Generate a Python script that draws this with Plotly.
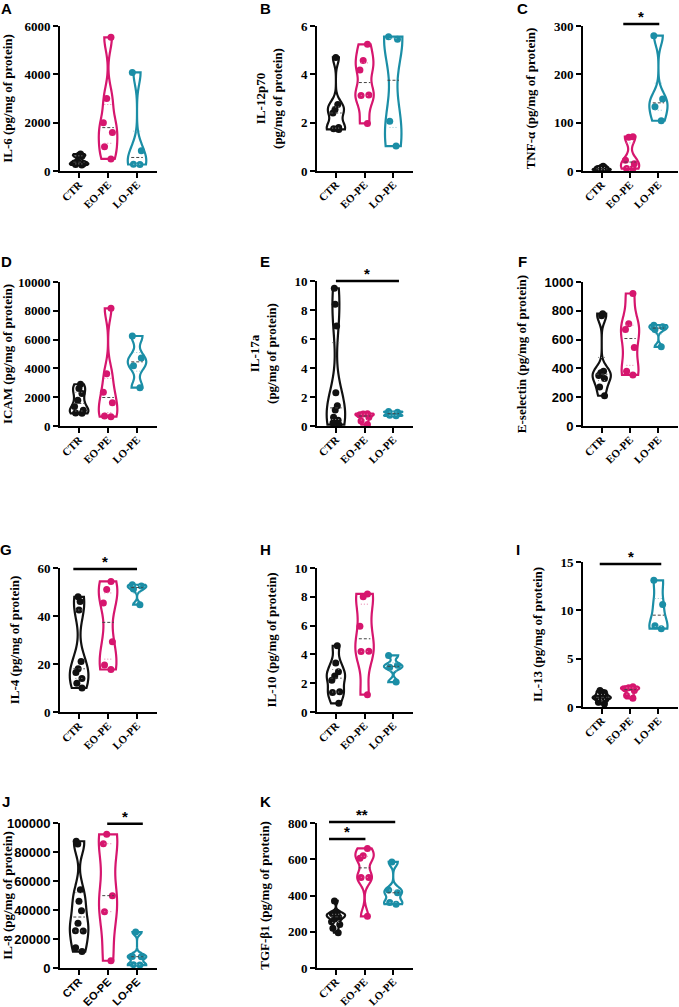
import numpy as np
import plotly.graph_objects as go

groups = ["CTR", "EO-PE", "LO-PE"]
colors = ["#111111", "#D6166E", "#1B8EA6"]
quart_colors = ["#8a8a8a", "#E77AAA", "#8FC6D2"]

# Panel data
il6 = [[700, 650, 620, 400, 330, 300, 270, 250], [5530, 3000, 2000, 1590, 1000, 500], [4080, 840, 280, 270]]
il12p70 = [[4.7, 2.75, 2.55, 2.4, 1.8, 1.75, 1.72], [5.24, 4.57, 4.18, 3.14, 3.12, 1.97], [5.56, 5.45, 2.06, 1.03]]
tnfa = [[10, 8, 7, 5, 4, 3, 2, 1], [71, 70, 22, 15, 5, 5], [280, 149, 133, 104]]
icam = [[2900, 2600, 2250, 1780, 1350, 1090, 900, 880], [8170, 3630, 2340, 1620, 700, 650], [6250, 4720, 4190, 2660]]
il17a = [[9.5, 8.4, 6.9, 2.3, 1.4, 1.1, 0.6, 0.4, 0.2, 0.1], [0.85, 0.82, 0.78, 0.6, 0.35, 0.1], [1.0, 0.95, 0.75, 0.7]]
eselectin = [[780, 765, 380, 370, 350, 330, 270, 210], [920, 710, 670, 545, 380, 355], [700, 690, 670, 550]]
il4 = [[48, 46, 42.5, 21, 18, 16.5, 14, 12, 10], [54.4, 51, 45.4, 29.3, 19.6, 17.7], [53, 52.5, 51.2, 44.7]]
il10 = [[4.6, 3.4, 2.8, 2.5, 2.2, 1.4, 1.35, 0.6], [8.2, 8.0, 5.95, 4.22, 4.2, 1.2], [3.93, 3.24, 3.1, 2.08]]
il13 = [[1.7, 1.5, 1.3, 1.1, 1.0, 0.9, 0.8, 0.5, 0.3], [2.1, 2.0, 1.9, 1.7, 1.2, 0.9], [13.1, 10.6, 8.4, 8.1]]
il8 = [[87400, 85500, 54000, 46000, 39500, 30800, 25700, 25500, 14000, 11300], [92200, 85700, 49900, 38850, 5000], [24800, 8000, 7800, 2300, 2000]]
tgfb1 = [[370, 305, 300, 295, 290, 285, 280, 270, 255, 240, 220, 195], [660, 620, 605, 500, 500, 285], [585, 430, 415, 362, 352]]

letters = ["A", "B", "C", "D", "E", "F", "G", "H", "I", "J", "K"]
titles = ["IL-6 (pg/mg of protein)", "IL-12p70<br>(pg/mg of protein)", "TNF-α (pg/mg of protein)",
          "ICAM (pg/mg of protein)", "IL-17a<br>(pg/mg of protein)", "E-selectin (pg/mg of protein)",
          "IL-4 (pg/mg of protein)", "IL-10 (pg/mg of protein)", "IL-13 (pg/mg of protein)",
          "IL-8 (pg/mg of protein)", "TGF-β1 (pg/mg of protein)"]
datasets = [il6, il12p70, tnfa, icam, il17a, eselectin, il4, il10, il13, il8, tgfb1]
ymax = [6000, 6, 300, 10000, 10, 1000, 60, 10, 15, 100000, 800]
ystep = [2000, 2, 100, 2000, 2, 200, 20, 2, 5, 20000, 200]
sans_y = [False, False, False, False, False, True, False, False, False, True, False]
sans_x = [False, False, False, False, False, False, False, False, False, True, False]

# significance bars: (panel index, x0, x1, y, label)
sig = [(2, 0.76, 2.03, 304, "*"), (4, 0.0, 2.2, 10.0, "*"), (6, -0.2, 2.0, 59.6, "*"),
       (8, -0.07, 2.1, 14.8, "*"), (9, 0.97, 2.2, 99500, "*"), (10, -0.24, 2.07, 806, "**"),
       (10, -0.24, 1.03, 712, "*")]

W, H = 679, 1007
# pixel boxes (x_axis_left, x_right, y_top, y_bottom)
boxes = [(60, 157, 26, 171), (317, 413, 26, 171), (583, 678, 26, 171),
         (60, 157, 282, 426), (317, 413, 281, 426), (583, 678, 282, 426),
         (60, 157, 568, 712), (317, 413, 568, 712), (583, 678, 562, 707),
         (60, 157, 823, 968), (317, 413, 823, 968)]
letter_pos = [(6, 9), (265, 9), (522, 9), (6, 261), (265, 261), (522, 261),
              (6, 549), (265, 549), (518, 549), (6, 801), (265, 801)]

SERIF = "Liberation Serif"
SANS = "Liberation Sans"


def kde_bandwidth(vals, factor=0.6):
    v = np.asarray(vals, dtype=float)
    sd = v.std(ddof=1)
    iqr = np.subtract(*np.percentile(v, [75, 25]))
    s = min(sd, iqr / 1.349) if iqr > 0 else sd
    return factor * 1.059 * s * len(v) ** -0.2


fig = go.Figure()
layout = {}
annotations = []
shapes = []
for p, data in enumerate(datasets):
    n = p + 1
    xa = "x" if n == 1 else f"x{n}"
    ya = "y" if n == 1 else f"y{n}"
    for g, vals in enumerate(data):
        fig.add_trace(go.Violin(
            x=[g] * len(vals), y=vals, xaxis=xa, yaxis=ya,
            points="all", pointpos=0, jitter=0.6, spanmode="hard",
            bandwidth=kde_bandwidth(vals),
            width=0.64, scalemode="width", side="both",
            line=dict(color=colors[g], width=2.2),
            fillcolor="rgba(255,255,255,0)",
            marker=dict(color=colors[g], size=7, line=dict(width=0)),
            box_visible=False, meanline_visible=False, showlegend=False,
            hoverinfo="y"))
        q1, med, q3 = (float(v) for v in np.percentile(vals, [25, 50, 75]))
        for qv in (q1, q3):
            fig.add_trace(go.Scatter(x=[g - 0.13, g + 0.13], y=[qv, qv], xaxis=xa, yaxis=ya,
                                     mode="lines", line=dict(color=quart_colors[g], width=1, dash="1px,2px"),
                                     showlegend=False, hoverinfo="skip"))
        fig.add_trace(go.Scatter(x=[g - 0.2, g + 0.2], y=[med, med], xaxis=xa, yaxis=ya,
                                 mode="lines", line=dict(color="#444444", width=1, dash="3px,2px"),
                                 showlegend=False, hoverinfo="skip"))
    x0, x1, yt, yb = boxes[p]
    tickfont_y = dict(family=SANS if sans_y[p] else SERIF, size=13, color="black", weight="bold")
    tickfont_x = dict(family=SANS if sans_x[p] else SERIF, size=11, color="black", weight="bold")
    layout[f"xaxis{'' if n == 1 else n}"] = dict(
        domain=[x0 / W, x1 / W], anchor=ya, range=[-0.66, 2.69],
        tickmode="array", tickvals=[0, 1, 2], ticktext=groups, tickangle=-45,
        tickfont=tickfont_x, showline=True, linewidth=2, linecolor="black",
        ticks="outside", ticklen=5, tickwidth=2, tickcolor="black", ticklabelstandoff=-4,
        showgrid=False, zeroline=False, automargin=False)
    layout[f"yaxis{'' if n == 1 else n}"] = dict(
        domain=[1 - yb / H, 1 - yt / H], anchor=xa, range=[0, ymax[p]],
        tickmode="linear", tick0=0, dtick=ystep[p], tickformat="d", tickfont=tickfont_y,
        title=dict(text=titles[p], font=dict(family=SERIF, size=13, color="black", weight="bold")),
        showline=True, linewidth=2, linecolor="black",
        ticks="outside", ticklen=5, tickwidth=2, tickcolor="black",
        showgrid=False, zeroline=False, automargin=False)
    lx, ly = letter_pos[p]
    annotations.append(dict(text=letters[p], x=lx / W, y=1 - ly / H, xref="paper", yref="paper",
                            xanchor="center", yanchor="middle", showarrow=False,
                            font=dict(family=SANS, size=15, color="black", weight="bold")))

for (p, sx0, sx1, sy, lab) in sig:
    n = p + 1
    xa = "x" if n == 1 else f"x{n}"
    x0, x1, yt, yb = boxes[p]
    # convert data value to paper coordinate of this panel
    py = (1 - yb / H) + (sy / ymax[p]) * (yb - yt) / H
    shapes.append(dict(type="line", xref=xa, yref="paper", x0=sx0, x1=sx1, y0=py, y1=py,
                       line=dict(color="black", width=2.5)))
    annotations.append(dict(text=lab, x=(sx0 + sx1) / 2, y=py, xref=xa, yref="paper",
                            xanchor="center", yanchor="bottom", showarrow=False, yshift=-3,
                            font=dict(family=SANS, size=15, color="black", weight="bold")))

fig.update_layout(width=W, height=H, margin=dict(l=0, r=0, t=0, b=0),
                  paper_bgcolor="white", plot_bgcolor="white", violinmode="overlay",
                  annotations=annotations, shapes=shapes, **layout)
fig.write_html("out.html", config={"displayModeBar": False},
               post_script="document.body.style.margin='0';document.body.style.overflow='hidden';")
